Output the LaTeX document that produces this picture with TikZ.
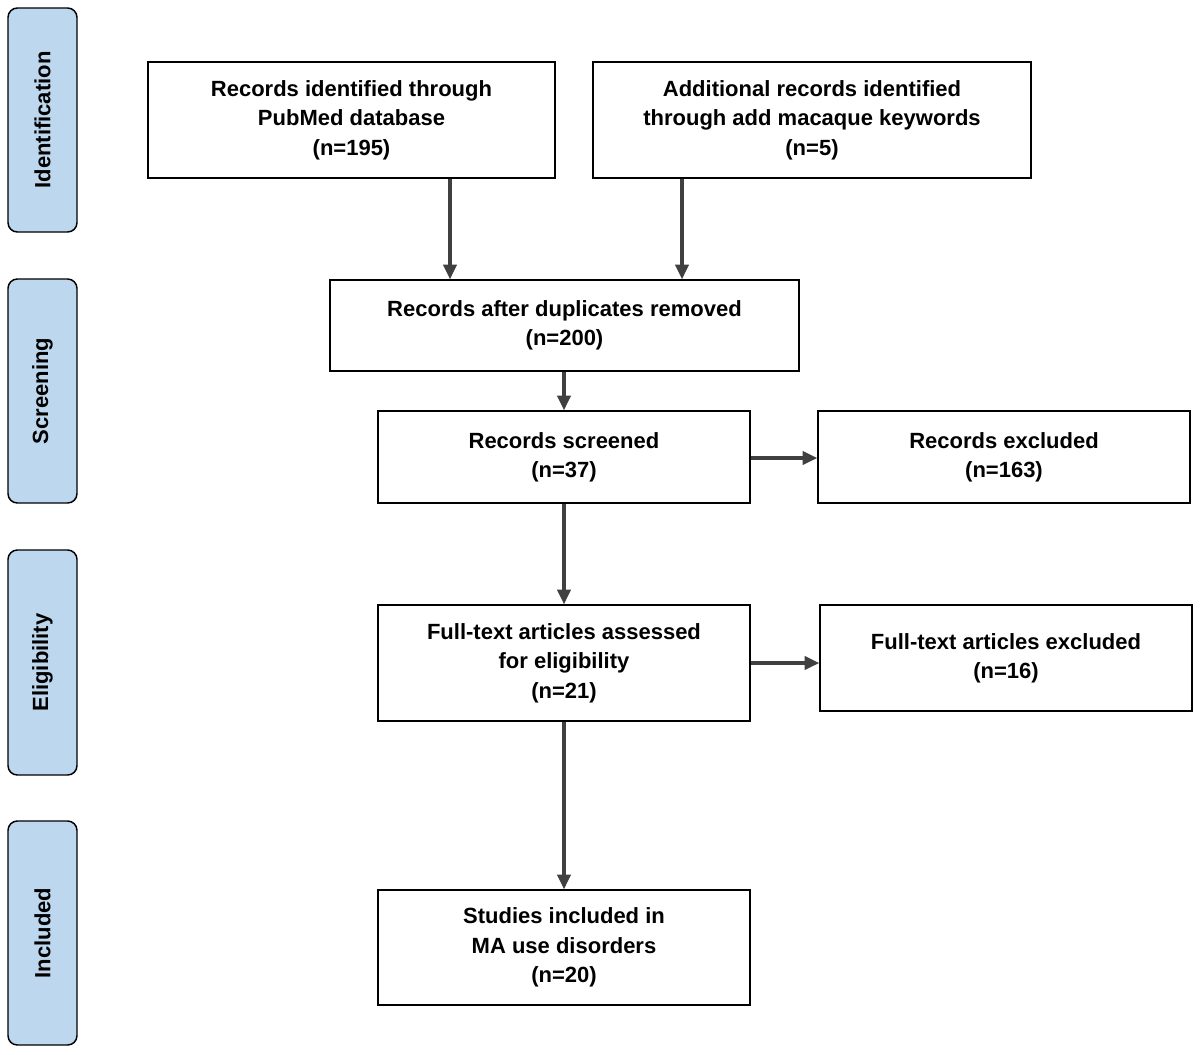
\documentclass[tikz,border=0pt]{standalone}
\usepackage{fontspec}
\setmainfont{Liberation Sans}
\usetikzlibrary{arrows.meta}
\definecolor{side}{HTML}{BDD7EE}
\definecolor{arr}{HTML}{404040}
\begin{document}
\begin{tikzpicture}[x=0.75pt,y=-0.75pt,
 box/.style={draw=black,line width=1.1pt,fill=white,align=center,inner sep=0pt,
   font=\fontsize{16.5}{22}\selectfont\bfseries},
 phase/.style={draw=black,line width=1.1pt,fill=side,rounded corners=7pt,inner sep=0pt,
   font=\fontsize{16.5}{20}\selectfont\bfseries},
 conn/.style={draw=arr,line width=2.3pt,-{Triangle[length=11pt,width=10pt]}}]
\useasboundingbox (0,0) rectangle (1200,1054);
\newcommand{\bx}[6]{\node[box,minimum width={(#4-#2)*0.75pt},minimum height={(#5-#3)*0.75pt}] (#1) at ({(#2+#4)/2},{(#3+#5)/2}) {#6};}
\newcommand{\ph}[4]{\node[phase,minimum width={(#3-#2)*0.75pt},minimum height=69*0.75pt,rotate=90] (#1) at (42.5,{(#2+#3)/2}) {#4};}
\ph{p1}{8}{232}{Identification}
\ph{p2}{279}{503}{Screening}
\ph{p3}{550}{775}{Eligibility}
\ph{p4}{821}{1045}{Included}
\bx{id1}{148}{62}{555}{178}{Records identified through\\PubMed database\\(n=195)}
\bx{id2}{593}{62}{1031}{178}{Additional records identified\\through add macaque keywords\\(n=5)}
\bx{dup}{330}{280}{799}{371}{Records after duplicates removed\\(n=200)}
\bx{scr}{378}{411}{750}{503}{Records screened\\(n=37)}
\bx{exc}{818}{411}{1190}{503}{Records excluded\\(n=163)}
\bx{ft}{378}{605}{750}{721}{Full-text articles assessed\\for eligibility\\(n=21)}
\bx{ftx}{820}{605}{1192}{711}{Full-text articles excluded\\(n=16)}
\bx{inc}{378}{890}{750}{1005}{Studies included in\\MA use disorders\\(n=20)}
\coordinate (a1) at (450,0);
\coordinate (a2) at (682,0);
\coordinate (h1) at (0,458);
\coordinate (h2) at (0,663);
\draw[conn] (id1.south -| a1) -- (dup.north -| a1);
\draw[conn] (id2.south -| a2) -- (dup.north -| a2);
\draw[conn] (dup.south -| scr) -- (scr.north);
\draw[conn] (scr.east |- h1) -- (exc.west |- h1);
\draw[conn] (scr.south) -- (ft.north);
\draw[conn] (ft.east |- h2) -- (ftx.west |- h2);
\draw[conn] (ft.south) -- (inc.north);
\end{tikzpicture}
\end{document}
